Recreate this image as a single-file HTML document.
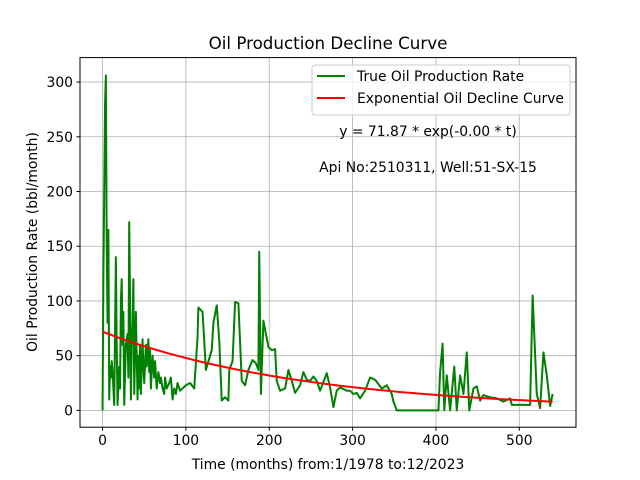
<!DOCTYPE html>
<html><head><meta charset="utf-8"><style>body{margin:0;background:#fff}svg{display:block;font-family:"DejaVu Sans","Liberation Sans",sans-serif}</style></head>
<body>
<svg id="chart" width="640" height="480" xmlns="http://www.w3.org/2000/svg">
<rect width="640" height="480" fill="#fff"/>
<text x="328" y="49" font-size="16.7" text-anchor="middle">Oil Production Decline Curve</text>
<g id="grid"></g>
<g id="series"></g>
<rect x="80" y="57.6" width="496" height="369.6" fill="none" stroke="#000" stroke-width="1"/>
<g id="ticks" font-size="13.9"></g>
<text x="328" y="469" font-size="13.9" text-anchor="middle">Time (months) from:1/1978 to:12/2023</text>
<text transform="translate(37,242) rotate(-90)" font-size="13.9" text-anchor="middle">Oil Production Rate (bbl/month)</text>
<g>
<rect x="312" y="65" width="258" height="50" rx="3" fill="#fff" fill-opacity="0.8" stroke="#ccc"/>
<line x1="317" y1="76" x2="345" y2="76" stroke="green" stroke-width="2"/>
<text x="357" y="81" font-size="13.9">True Oil Production Rate</text>
<line x1="317" y1="98" x2="345" y2="98" stroke="red" stroke-width="2"/>
<text x="357" y="103" font-size="13.9">Exponential Oil Decline Curve</text>
</g>
<text x="428" y="136" font-size="13.9" text-anchor="middle">y = 71.87 * exp(-0.00 * t)</text>
<text x="428" y="172" font-size="13.9" text-anchor="middle">Api No:2510311, Well:51-SX-15</text>
</svg>
<script>
const months=[0,1,2,3,4,5,6,7,8,9,10,11,12,14,16,17,18,20,21,22,23,24,25,26,28,30,31,32,33,34,35,36,37,38,40,41,42,43,44,45,46,48,49,50,52,53,55,56,57,58,60,62,63,65,67,69,70,72,74,75,77,80,82,84,86,88,90,93,100,105,110,114,115,120,124,131,133,137,140,143,147,151,152,156,159,163,167,171,175,180,184,187,188,190,193,196,199,203,207,209,213,219,223,227,231,237,241,245,249,253,257,261,269,273,277,281,285,293,297,301,305,309,315,321,327,335,341,347,349,353,403,405,408,410,413,417,422,425,429,433,437,440,445,449,453,457,465,473,481,489,491,513,516,521,525,529,533,537,540];
const rates=[0,120,200,280,306,150,80,165,10,40,30,45,35,5,140,60,5,40,20,100,120,60,90,5,60,70,30,172,100,10,60,80,120,15,90,50,10,50,20,60,15,65,40,25,60,40,65,35,55,20,50,30,45,20,35,25,30,20,15,30,20,25,30,10,20,15,25,18,23,25,20,67,94,90,37,55,80,96,64,9,12,9,37,45,99,98,27,23,37,46,43,37,145,15,82,70,58,55,56,27,18,20,37,27,16,23,35,28,27,31,27,18,34,21,3,18,21,18,18,15,16,11,18,30,28,20,23,15,8,0,0,35,61,0,32,0,40,0,32,15,53,0,20,22,9,14,12,11,8,11,5,5,105,15,2,53,32,4,15];
const fitA=71.87, fitK=0.004065;
const xTicks=[0,100,200,300,400,500];
const yTicks=[0,50,100,150,200,250,300];
const NS="http://www.w3.org/2000/svg";
const L=80,R=576,T=57.6,B=427.2,xmin=-27.05,xmax=568.05,ymin=-15.35,ymax=322.35;
const X=v=>L+(v-xmin)/(xmax-xmin)*(R-L);
const Y=v=>B-(v-ymin)/(ymax-ymin)*(B-T);
function mk(t,a,p){const e=document.createElementNS(NS,t);for(const k in a)e.setAttribute(k,a[k]);p.appendChild(e);return e;}
const grid=document.getElementById('grid'),ticks=document.getElementById('ticks'),series=document.getElementById('series');
xTicks.forEach(v=>{const x=X(v);
const g=mk('line',{x1:x,x2:x,y1:T,y2:B,stroke:'#b0b0b0','stroke-width':0.8},grid);


mk('line',{x1:x,x2:x,y1:B,y2:B+3.5,stroke:'#000'},ticks);
const t=mk('text',{x:x,y:B+18,'text-anchor':'middle'},ticks);t.textContent=v;

});
yTicks.forEach(v=>{const y=Y(v);
const g=mk('line',{x1:L,x2:R,y1:y,y2:y,stroke:'#b0b0b0','stroke-width':0.8},grid);


mk('line',{x1:L-3.5,x2:L,y1:y,y2:y,stroke:'#000'},ticks);
const t=mk('text',{x:L-7,y:y+5,'text-anchor':'end'},ticks);t.textContent=v;

});
const p1=mk('polyline',{points:months.map((m,i)=>X(m)+','+Y(rates[i])).join(' '),fill:'none',stroke:'green','stroke-width':2,'stroke-linejoin':'round'},series);


const fp=[];for(let m=0;m<=540;m+=5)fp.push(X(m)+','+Y(fitA*Math.exp(-fitK*m)));
const p2=mk('polyline',{points:fp.join(' '),fill:'none',stroke:'red','stroke-width':2},series);


</script>
</body></html>
